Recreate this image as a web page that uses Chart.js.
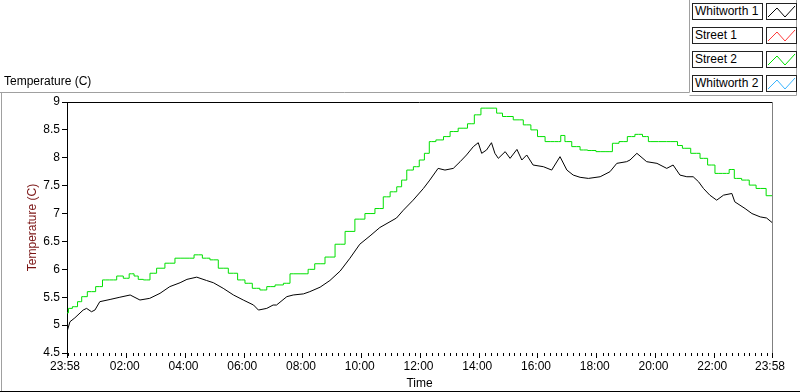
<!DOCTYPE html>
<html>
<head>
<meta charset="utf-8">
<script src="https://cdn.jsdelivr.net/npm/chart.js@4.4.1/dist/chart.umd.min.js"></script>
<style>
html,body{margin:0;padding:0;background:#fff;}
#wrap{position:relative;width:800px;height:392px;overflow:hidden;font-family:"Liberation Sans",Arial,sans-serif;color:#000;}
#c{position:absolute;left:0;top:0;}
.lgt{position:absolute;left:692px;width:71px;height:17px;border:1px solid #222;box-sizing:border-box;font-size:12px;line-height:15px;padding-left:2px;white-space:nowrap;background:#fff;}
.lgs{position:absolute;left:766px;width:31px;height:17px;border:1px solid #222;box-sizing:border-box;background:#fff;}
.lgs svg{position:absolute;left:-1px;top:-1px;}
#ptitle{position:absolute;left:4px;top:74px;font-size:12px;line-height:14px;}
</style>
</head>
<body>
<div id="wrap">
  <canvas id="c" width="800" height="392"></canvas>
  <div id="ptitle">Temperature (C)</div>
  <div id="legend"></div>
</div>
<script>
// ---- data (minutes since 23:58 start) ----
const timeW1 = [0,6,16,33,40,50,57,67,88,108,129,149,169,190,210,231,245,265,285,299,319,340,360,381,391,408,421,428,449,462,483,496,517,537,558,578,598,619,639,673,687,707,728,741,758,772,789,803,816,830,840,847,857,867,874,881,895,905,919,929,939,952,973,990,1007,1021,1034,1048,1065,1089,1109,1123,1143,1150,1164,1184,1205,1225,1238,1252,1266,1279,1290,1300,1313,1327,1341,1358,1364,1385,1399,1416,1429,1440];
const tempW1 = [4.88,5.06,5.13,5.27,5.30,5.24,5.27,5.42,5.46,5.50,5.54,5.45,5.48,5.57,5.69,5.76,5.82,5.86,5.80,5.76,5.66,5.54,5.45,5.36,5.27,5.30,5.36,5.36,5.51,5.54,5.56,5.60,5.68,5.80,5.97,6.20,6.45,6.60,6.75,6.92,7.06,7.24,7.45,7.60,7.81,7.78,7.81,7.93,8.05,8.20,8.27,8.08,8.14,8.27,8.08,7.99,8.11,7.99,8.15,7.96,8.05,7.87,7.84,7.78,8.02,7.78,7.69,7.65,7.63,7.66,7.75,7.90,7.93,7.96,8.08,7.93,7.90,7.81,7.87,7.69,7.66,7.66,7.57,7.45,7.33,7.24,7.33,7.36,7.21,7.09,7.00,6.94,6.92,6.84];
const timeS2 = [0,6,16,27,33,50,67,78,95,108,122,132,142,149,163,176,190,210,231,251,268,285,299,319,340,357,370,387,401,415,435,449,462,490,495,517,537,558,578,598,619,639,653,667,680,687,701,714,725,735,745,762,776,789,809,827,837,854,874,881,898,925,939,956,966,987,1004,1013,1021,1041,1055,1072,1089,1109,1119,1136,1153,1167,1184,1191,1225,1242,1252,1262,1286,1300,1317,1330,1347,1358,1368,1388,1399,1416,1440];
const tempS2 = [5.22,5.30,5.33,5.42,5.51,5.60,5.69,5.81,5.81,5.88,5.84,5.92,5.88,5.82,5.81,5.93,6.02,6.11,6.20,6.20,6.26,6.20,6.17,6.02,5.93,5.81,5.75,5.66,5.63,5.69,5.72,5.75,5.92,5.92,6.00,6.10,6.22,6.45,6.68,6.90,7.00,7.09,7.30,7.39,7.48,7.60,7.78,7.84,7.96,8.08,8.29,8.32,8.38,8.47,8.53,8.61,8.77,8.89,8.89,8.80,8.74,8.68,8.59,8.50,8.38,8.29,8.29,8.40,8.29,8.20,8.14,8.13,8.11,8.11,8.26,8.29,8.38,8.42,8.38,8.29,8.29,8.29,8.22,8.17,8.08,7.99,7.87,7.72,7.72,7.79,7.63,7.60,7.51,7.45,7.32];
const timeS1 = [];
const tempS1 = [];
const timeW2 = [];
const tempW2 = [];

const seriesNames  = ['Whitworth 1','Street 1','Street 2','Whitworth 2'];
const seriesColors = ['#000000','#ff3a3a','#00e000','#38b4ff'];

const tickTimes  = [0,122,242,362,482,602,722,842,962,1082,1202,1322,1440];
const tickLabels = ['23:58','02:00','04:00','06:00','08:00','10:00','12:00','14:00','16:00','18:00','20:00','22:00','23:58'];
const yTickValues = [4.5,5,5.5,6,6.5,7,7.5,8,8.5,9];
const yTickLabels = ['4.5','5','5.5','6','6.5','7','7.5','8','8.5','9'];
const minorStart = 2, minorStep = 12;
const yMin = 4.5, yMax = 9;
const yTitle = 'Temperature (C)';
const xTitle = 'Time';

function pts(t, v){ return t.map((x,i)=>({x:x, y:v[i]})); }

// ---- legend (HTML) ----
const lg = document.getElementById('legend');
seriesNames.forEach((n,i)=>{
  const top = 3 + i*24;
  const t = document.createElement('div');
  t.className='lgt'; t.style.top=top+'px'; t.textContent=n; lg.appendChild(t);
  const s = document.createElement('div');
  s.className='lgs'; s.style.top=top+'px';
  s.innerHTML = '<svg width="31" height="17"><polyline points="2,14 11,5 19,14 29,3" fill="none" stroke="'+seriesColors[i]+'" stroke-width="1"/></svg>';
  lg.appendChild(s);
});

const FONT = {family:'"Liberation Sans", Arial, sans-serif', size:12};

const framePlugin = {
  id:'frame',
  beforeDraw(chart){
    const ctx = chart.ctx; ctx.save();
    ctx.lineWidth = 1;
    ctx.strokeStyle = '#a0a0a0';
    ctx.beginPath();
    ctx.moveTo(0, 92.5); ctx.lineTo(689.5, 92.5); ctx.lineTo(689.5, 0);
    ctx.moveTo(1.5, 92.5); ctx.lineTo(1.5, 392);
    ctx.moveTo(689.5, 95.5); ctx.lineTo(796.5, 95.5);
    ctx.moveTo(796.5, 0); ctx.lineTo(796.5, 95.5);
    ctx.stroke();
    ctx.strokeStyle = '#000';
    ctx.beginPath(); ctx.moveTo(0, 391.5); ctx.lineTo(800, 391.5); ctx.stroke();
    ctx.restore();
  },
  afterDraw(chart){
    const ctx = chart.ctx, a = chart.chartArea, x = chart.scales.x;
    ctx.save(); ctx.lineWidth = 1;
    ctx.strokeStyle = '#000';
    ctx.beginPath(); ctx.moveTo(a.left, Math.round(a.top)+0.5); ctx.lineTo(a.right, Math.round(a.top)+0.5); ctx.stroke();
    ctx.strokeStyle = '#808080';
    ctx.beginPath(); ctx.moveTo(Math.round(a.right)+0.5, a.top); ctx.lineTo(Math.round(a.right)+0.5, a.bottom); ctx.stroke();
    ctx.strokeStyle = '#000';
    ctx.beginPath();
    for (let v = minorStart; v < 1440; v += minorStep){
      if (tickTimes.includes(v)) continue;
      const px = Math.round(x.getPixelForValue(v)) + 0.5;
      ctx.moveTo(px, x.top); ctx.lineTo(px, x.top + 3);
    }
    ctx.stroke();
    ctx.restore();
  }
};

new Chart(document.getElementById('c'), {
  type:'line',
  data:{
    datasets:[
      {label:seriesNames[0], data:pts(timeW1,tempW1), borderColor:seriesColors[0], borderWidth:1, pointRadius:0, tension:0},
      {label:seriesNames[1], data:pts(timeS1,tempS1), borderColor:seriesColors[1], borderWidth:1, pointRadius:0, tension:0},
      {label:seriesNames[2], data:pts(timeS2,tempS2), borderColor:seriesColors[2], borderWidth:1, pointRadius:0, tension:0, stepped:'middle'},
      {label:seriesNames[3], data:pts(timeW2,tempW2), borderColor:seriesColors[3], borderWidth:1, pointRadius:0, tension:0}
    ]
  },
  options:{
    responsive:false, animation:false, devicePixelRatio:1,
    layout:{padding:{left:0, top:102, right:28, bottom:0}},
    plugins:{legend:{display:false}, tooltip:{enabled:false}, title:{display:false}},
    scales:{
      x:{
        type:'linear', min:0, max:1440,
        afterBuildTicks(s){ s.ticks = tickTimes.map(v=>({value:v})); },
        afterFit(s){ s.height = 39; },
        ticks:{autoSkip:false, maxRotation:0, minRotation:0, padding:1, labelOffset:-2, color:'#000', font:FONT,
               callback:(v,i)=>tickLabels[i]},
        grid:{drawOnChartArea:false, drawTicks:true, tickLength:5, color:'#000'},
        border:{display:false},
        title:{display:true, text:xTitle, color:'#000', font:FONT, padding:{top:0, bottom:1}}
      },
      y:{
        min:yMin, max:yMax,
        afterBuildTicks(s){ s.ticks = yTickValues.map(v=>({value:v})); },
        afterFit(s){ s.width = 67; },
        ticks:{autoSkip:false, padding:2, color:'#000', font:FONT, callback:(v,i)=>yTickLabels[i]},
        grid:{drawOnChartArea:false, drawTicks:true, tickLength:5, color:'#000'},
        border:{display:true, color:'#000', width:1},
        title:{display:true, text:yTitle, color:'#7a1414', font:FONT, padding:{top:25, bottom:0}}
      }
    }
  },
  plugins:[framePlugin]
});
</script>
</body>
</html>
